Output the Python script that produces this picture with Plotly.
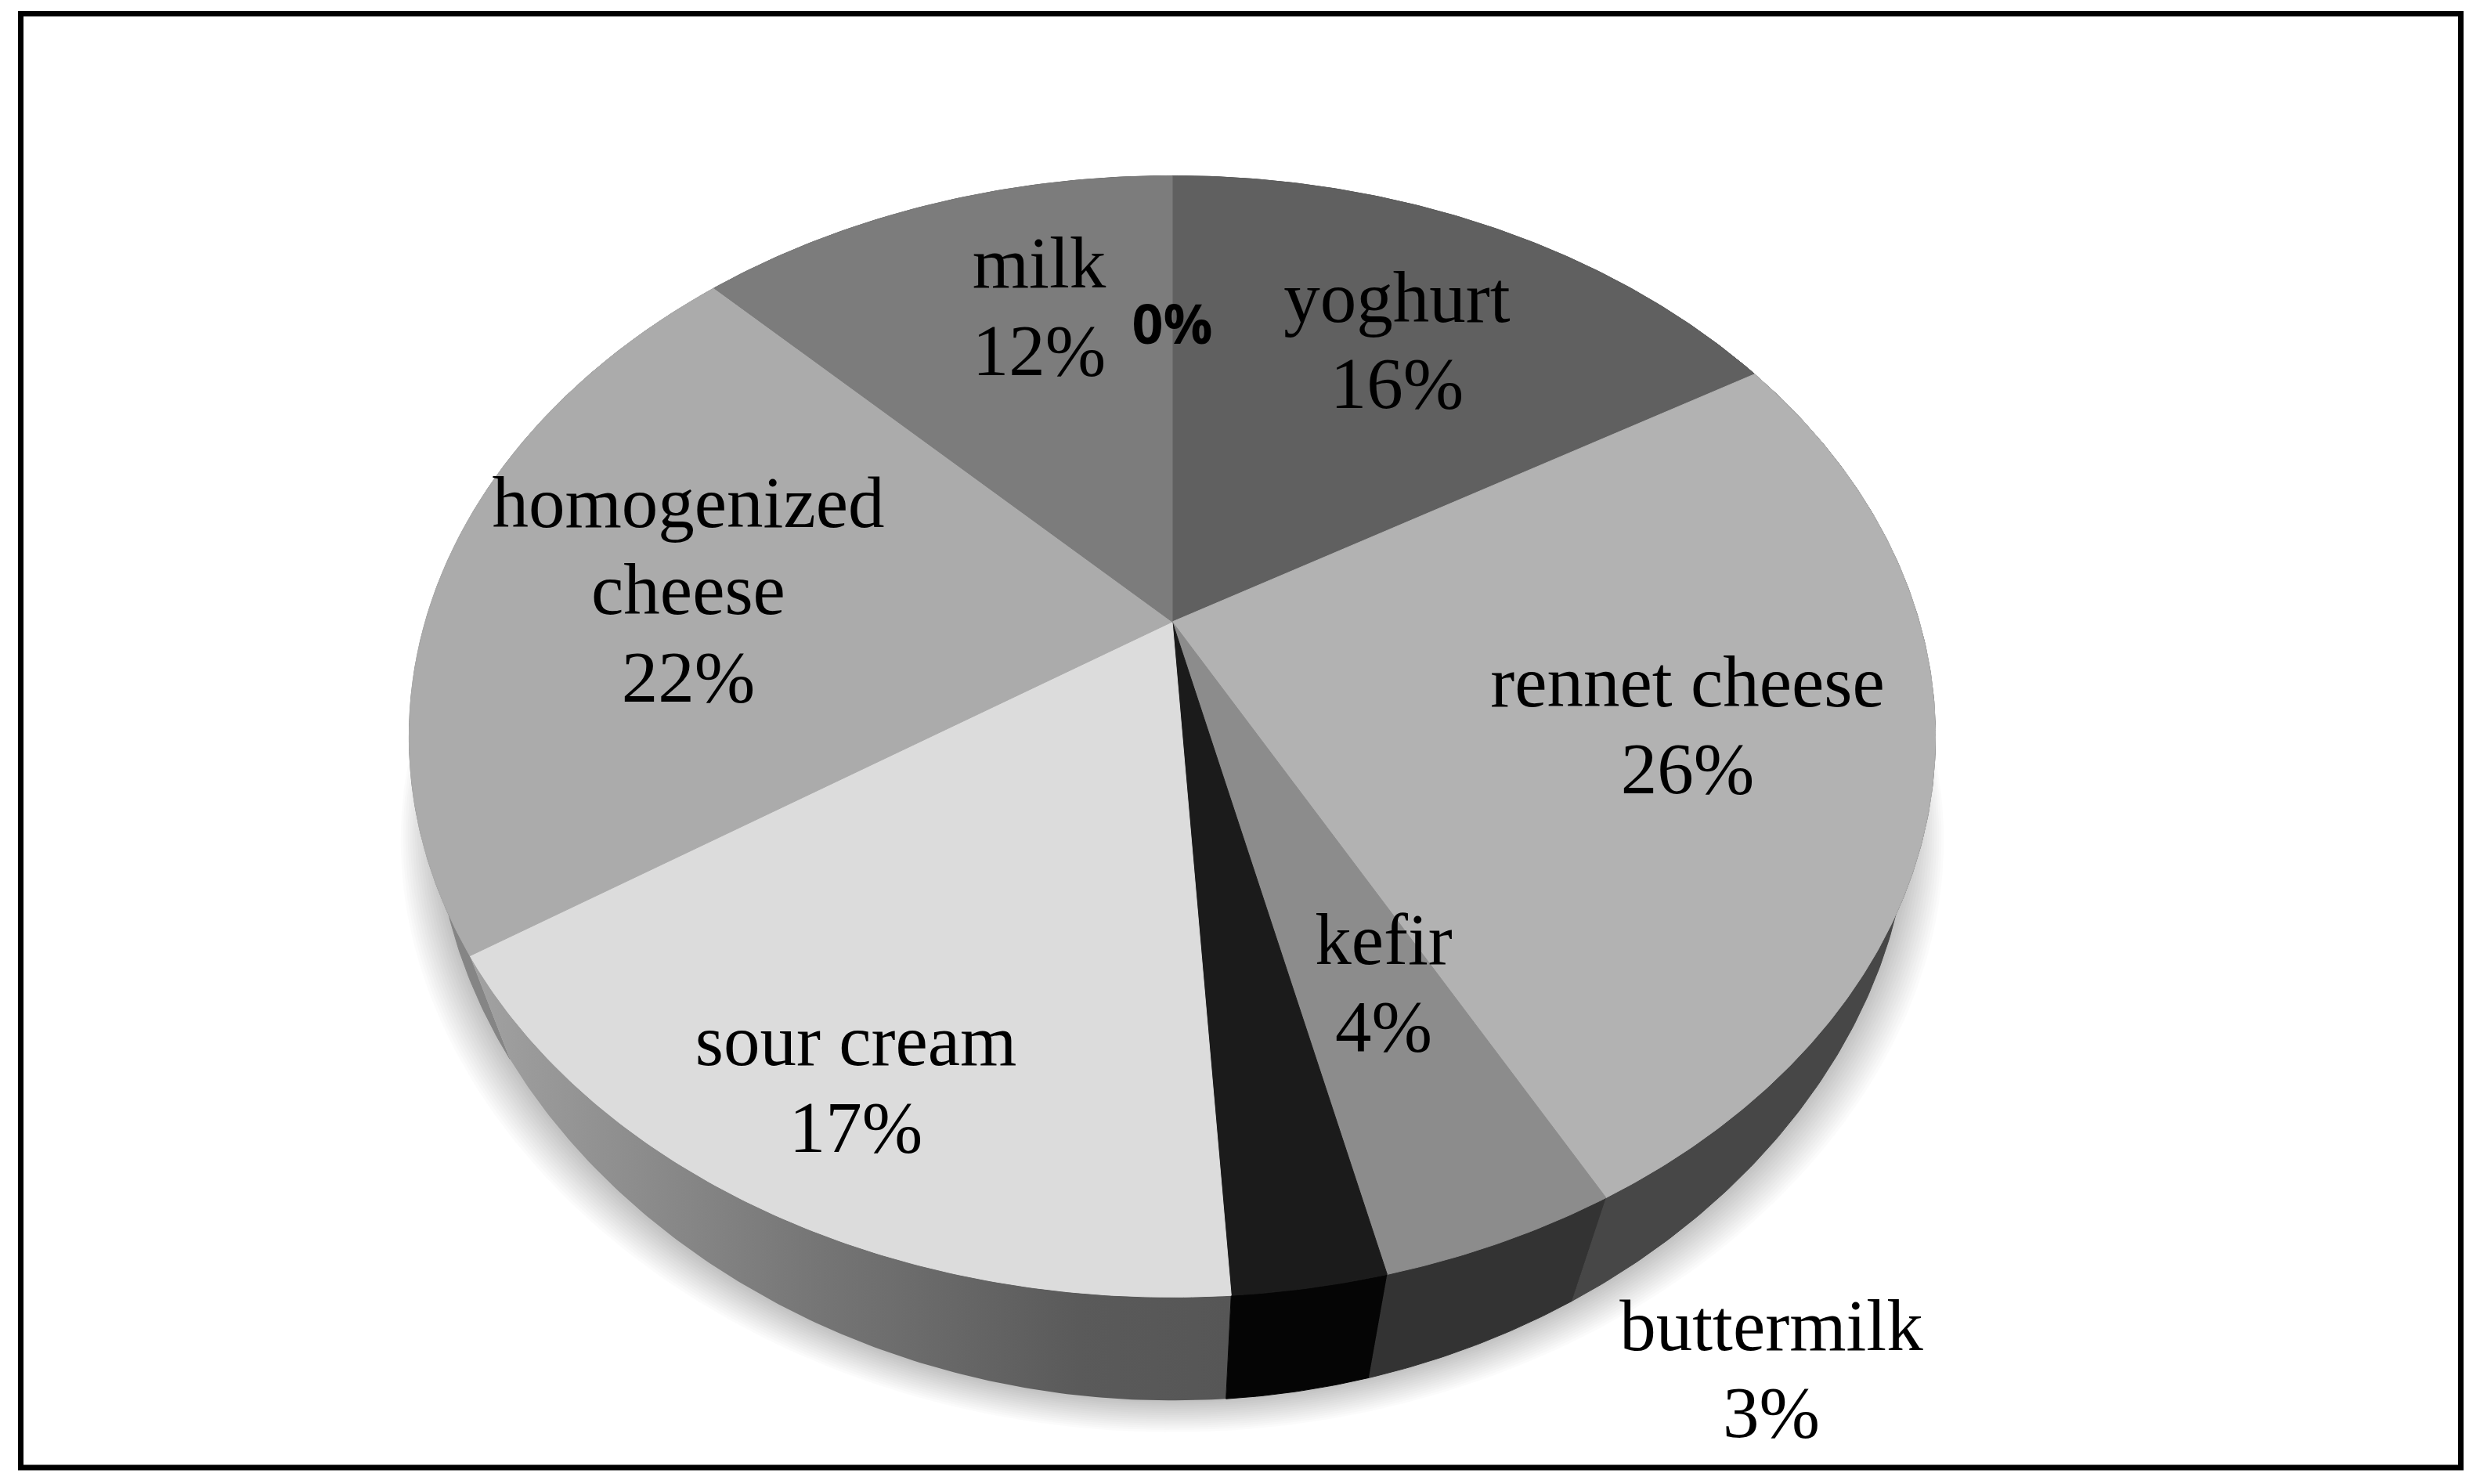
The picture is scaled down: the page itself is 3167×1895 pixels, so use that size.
import numpy as np
import plotly.graph_objects as go

# slices, clockwise from 12 o'clock (labels show them rounded)
categories = ["yoghurt", "rennet cheese", "kefir", "buttermilk", "sour cream", "homogenized cheese", "milk"]
values = [16.5, 25.6, 4.2, 2.7, 16.7, 21.9, 12.4]
zero_label = "0%"

top_colors = ["#606060", "#b2b2b2", "#8c8c8c", "#1b1b1b", "#dcdcdc", "#ababab", "#7c7c7c"]
wall_colors = ["#404040", "#474747", "#333333", "#050505", None, "#858585", "#505050"]
sour_wall_scale = [[0, "#a2a2a2"], [0.45, "#767676"], [0.8, "#5a5a5a"], [1, "#565656"]]

# label centres in page pixels, one row per text line
label_rows = {
    "yoghurt": (1784, [388, 498]),
    "rennet cheese": (2155, [879, 990]),
    "kefir": (1767, [1208, 1319]),
    "buttermilk": (2262, [1701, 1812]),
    "sour cream": (1093, [1337, 1448]),
    "homogenized cheese": (879, [650, 761, 873]),
    "milk": (1327, [344, 456]),
}

W, H = 3167, 1895
CX, CY = 1497, 794      # apex of the pie
RX, RY = 954, 686       # projected radii
PERSP = 0.2045          # perspective of the tilted disc
DEPTH = 132             # height of the wall
LOW_SCALE = 0.975       # lower rim is a bit narrower
LOW_PERSP = 0.15        # and less tilted


def rim(theta, lower=False, grow=0.0):
    den = 1 + PERSP * np.cos(theta)
    v = RY * np.cos(theta) / den
    if lower:
        u = RX * LOW_SCALE * np.sin(theta) / (1 + LOW_PERSP * np.cos(theta))
        return CX + u * (1 + grow), CY - v + DEPTH
    u = RX * np.sin(theta) / den
    return CX + u * (1 + grow), CY - v


def arc(a0, a1):
    n = max(int((a1 - a0) * 120), 4)
    return np.linspace(a0, a1, n)


fig = go.Figure()

# soft shadow under the pie
for e in range(3, 48, 3):
    t = np.linspace(0, 2 * np.pi, 400)
    x, y = rim(t, lower=True, grow=e / 950)
    fig.add_trace(go.Scatter(
        x=x, y=y + e * 0.9, mode="lines", fill="toself",
        fillcolor="rgba(0,0,0,0.015)", line=dict(width=0), hoverinfo="skip",
    ))

edges = np.r_[0, np.cumsum(values)] / sum(values) * 2 * np.pi

# walls, from the back to the front
order = [0, 6, 5, 1, 2, 4, 3]
for i in order:
    t = arc(edges[i], edges[i + 1])
    x0, y0 = rim(t)
    x1, y1 = rim(t[::-1], lower=True)
    x, y = np.r_[x0, x1], np.r_[y0, y1]
    if wall_colors[i] is None:
        fig.add_trace(go.Scatter(
            x=x, y=y, mode="lines", fill="toself", line=dict(width=0), hoverinfo="skip",
            fillgradient=dict(type="horizontal", colorscale=sour_wall_scale),
        ))
    else:
        fig.add_trace(go.Scatter(
            x=x, y=y, mode="lines", fill="toself", fillcolor=wall_colors[i],
            line=dict(width=1, color=wall_colors[i]), hoverinfo="skip",
        ))

# top face
for i in range(len(values)):
    t = arc(edges[i], edges[i + 1])
    x0, y0 = rim(t)
    fig.add_trace(go.Scatter(
        x=np.r_[CX, x0, CX], y=np.r_[CY, y0, CY], mode="lines", fill="toself",
        fillcolor=top_colors[i], line=dict(width=1, color=top_colors[i]), hoverinfo="skip",
    ))

# labels
tx, ty, tt = [], [], []
for name, val in zip(categories, values):
    x, rows = label_rows[name]
    lines = name.split(" ") if name == "homogenized cheese" else [name]
    lines = lines + [f"{round(val)}%"]
    for line, y in zip(lines, rows):
        tx.append(x)
        ty.append(y)
        tt.append(line)
fig.add_trace(go.Scatter(
    x=tx, y=ty, text=tt, mode="text", textposition="middle center", hoverinfo="skip",
    textfont=dict(family="Liberation Serif", size=93, color="black"),
))
fig.add_trace(go.Scatter(
    x=[CX], y=[421], text=[zero_label], mode="text", textposition="middle center", hoverinfo="skip",
    textfont=dict(family="Open Sans", size=70, color="black", weight="bold"),
))

fig.add_shape(type="rect", x0=26.5, x1=3142.5, y0=17.5, y1=1874, line=dict(color="black", width=7))

fig.update_layout(
    width=W, height=H, margin=dict(l=0, r=0, t=0, b=0), showlegend=False,
    paper_bgcolor="white", plot_bgcolor="white",
    xaxis=dict(range=[0, W], visible=False),
    yaxis=dict(range=[H, 0], visible=False),
)

fig.write_html("out.html", config={"displayModeBar": False},
               post_script="document.body.style.margin='0';document.body.style.overflow='hidden';")
